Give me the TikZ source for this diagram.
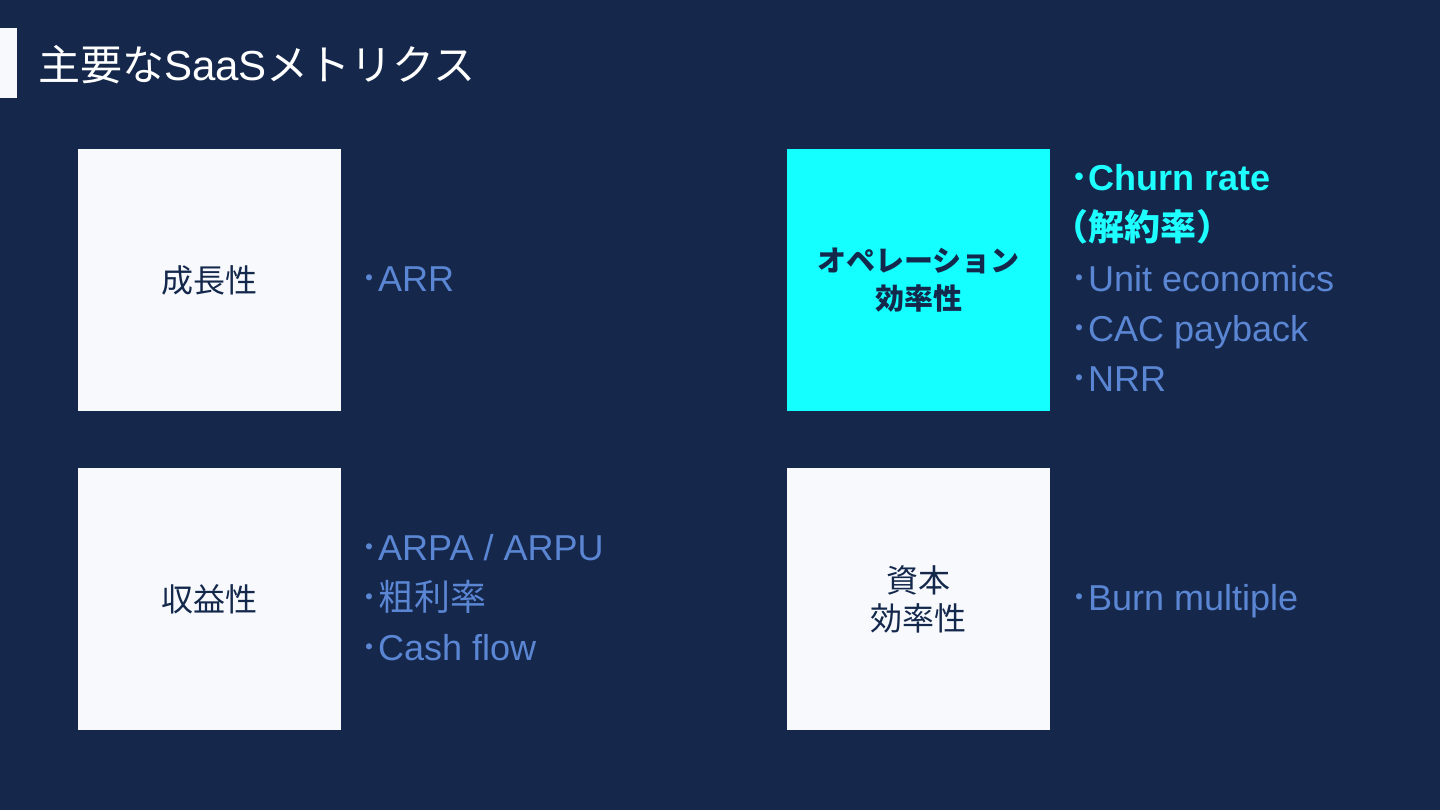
\documentclass[tikz,border=0pt]{standalone}
\usepackage{fontspec}
\setmainfont{Liberation Sans}
\newfontfamily\cjk{Noto Sans CJK JP}
\definecolor{bg}{HTML}{15284C}
\definecolor{boxw}{HTML}{F7F9FD}
\definecolor{cyanbox}{HTML}{14FFFF}
\definecolor{cyantxt}{HTML}{1EFFFF}
\definecolor{itemc}{HTML}{5B86D4}
\definecolor{navy}{HTML}{14284B}
\newcommand\bul{{\cjk ･}}
\tikzset{
  card/.style={draw=none, fill=boxw, minimum width=263pt, minimum height=262pt, inner sep=0pt,
    text=navy, align=center, font=\cjk\fontsize{32}{38}\selectfont},
  hot/.style={card, fill=cyanbox, font=\cjk\bfseries\fontsize{29}{38}\selectfont},
  item/.style={anchor=base west, inner sep=0pt, text=itemc, font=\fontsize{36}{50}\selectfont},
  hotitem/.style={item, text=cyantxt, font=\bfseries\fontsize{36}{50}\selectfont},
}
\begin{document}
\begin{tikzpicture}[x=1pt,y=-1pt]
\fill[bg] (0,0) rectangle (1440,810);
\useasboundingbox (0,0) rectangle (1440,810);
\fill[boxw] (0,28) rectangle (17,98);
\node[anchor=base west, inner sep=0pt, text=white, font=\fontsize{42}{50}\selectfont] (title) at (38,81)
  {{\cjk 主要な}SaaS{\cjk メトリクス}};
% cards
\node[card] (growth) at (209.5,280) {成長性};
\node[hot] (ops) at (918.5,280) {オペレーション\\効率性};
\node[card] (profit) at (209.5,599) {収益性};
\node[card] (capital) at (918.5,599) {資本\\効率性};
% items
\node[item] (arr) at (360,291) {\bul ARR};
\node[item] (arpa) at (360,560) {\bul ARPA / ARPU};
\node[item] (gross) at (360,610) {\bul{\cjk 粗利率}};
\node[item] (cash) at (360,660) {\bul Cash flow};
\node[hotitem] (churn) at (1070,191) {\bul Churn rate};
\node[hotitem] (churnjp) at (1052,241) {{\cjk （解約率）}};
\node[item] (unit) at (1070,291) {\bul Unit economics};
\node[item] (cac) at (1070,341) {\bul CAC payback};
\node[item] (nrr) at (1070,391) {\bul NRR};
\node[item] (burn) at (1070,610) {\bul Burn multiple};
\end{tikzpicture}
\end{document}
